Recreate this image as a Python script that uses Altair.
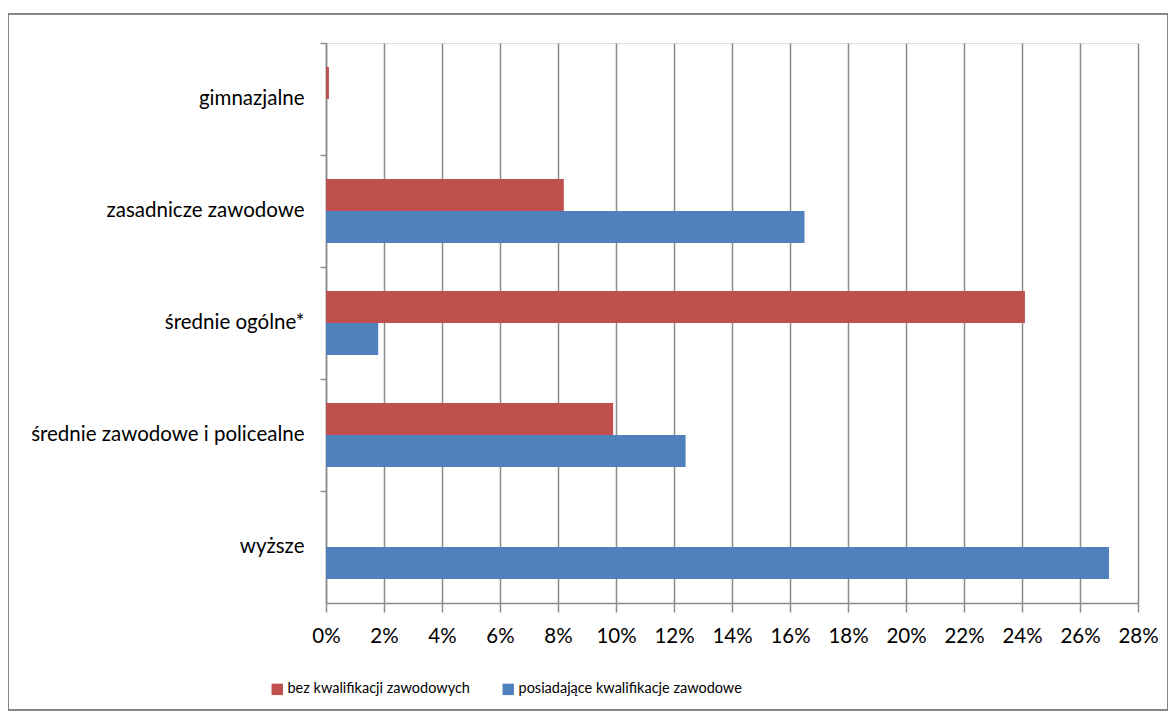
import altair as alt
import pandas as pd

categories = ["gimnazjalne", "zasadnicze zawodowe", "średnie ogólne*",
              "średnie zawodowe i policealne", "wyższe"]
series = ["bez kwalifikacji zawodowych", "posiadające kwalifikacje zawodowe"]
bez_kwalifikacji = [0.1, 8.2, 24.1, 9.9, 0.0]
posiadajace = [0.0, 16.5, 1.8, 12.4, 27.0]
x_ticks = list(range(0, 29, 2))
colors = ["#C0504D", "#4F81BD"]

rows = []
for c, a, b in zip(categories, bez_kwalifikacji, posiadajace):
    rows.append({"kat": c, "seria": series[0], "v": a / 100})
    rows.append({"kat": c, "seria": series[1], "v": b / 100})
df = pd.DataFrame(rows)

FONT = "Lato"
GRID = "#8C8C8C"

bars = alt.Chart(df).mark_bar().encode(
    x=alt.X("v:Q", scale=alt.Scale(domain=[0, 0.28], nice=False),
            axis=alt.Axis(values=[t / 100 for t in x_ticks], format=".0%",
                          title=None, grid=True, gridColor=GRID, gridWidth=1.5,
                          domainColor=GRID, domainWidth=1.5, tickColor=GRID,
                          tickWidth=1.5, tickSize=9, labelFontSize=20.5,
                          labelOverlap=False, labelFlush=False,
                          labelColor="black", labelFont=FONT, labelPadding=14)),
    y=alt.Y("kat:N", sort=categories,
            scale=alt.Scale(paddingInner=0, paddingOuter=0),
            axis=alt.Axis(title=None, bandPosition=0,
                          domainColor=GRID, domainWidth=1.5, tickColor=GRID,
                          tickWidth=1.5, tickSize=6, labelFontSize=20.5,
                          labelColor="black", labelFont=FONT, labelPadding=16,
                          labelLimit=400)),
    yOffset=alt.YOffset("seria:N", sort=series,
                        scale=alt.Scale(paddingInner=0, paddingOuter=0.75)),
    color=alt.Color("seria:N", sort=series,
                    scale=alt.Scale(domain=series, range=colors),
                    legend=alt.Legend(title=None, orient="none", direction="horizontal",
                                      legendX=-56, legendY=639, symbolType="square",
                                      symbolSize=130, symbolStrokeWidth=0,
                                      labelFontSize=14.5, labelFont=FONT,
                                      labelLimit=500,
                                      labelColor="black", columnPadding=31,
                                      labelOffset=3)),
)

frame = alt.Chart(pd.DataFrame({"a": [0]})).mark_rect(
    fill=None, stroke="#868686", strokeWidth=2
).encode(x=alt.value(-318), x2=alt.value(842), y=alt.value(-29), y2=alt.value(667))

chart = alt.layer(bars, frame).properties(
    width=812, height=560,
    autosize=alt.AutoSizeParams(type="none"),
    padding={"left": 318, "top": 35, "right": 30, "bottom": 111},
).configure_view(stroke=None).configure(background="white")

chart.save("out.html", embed_options={"renderer": "svg", "actions": False})
